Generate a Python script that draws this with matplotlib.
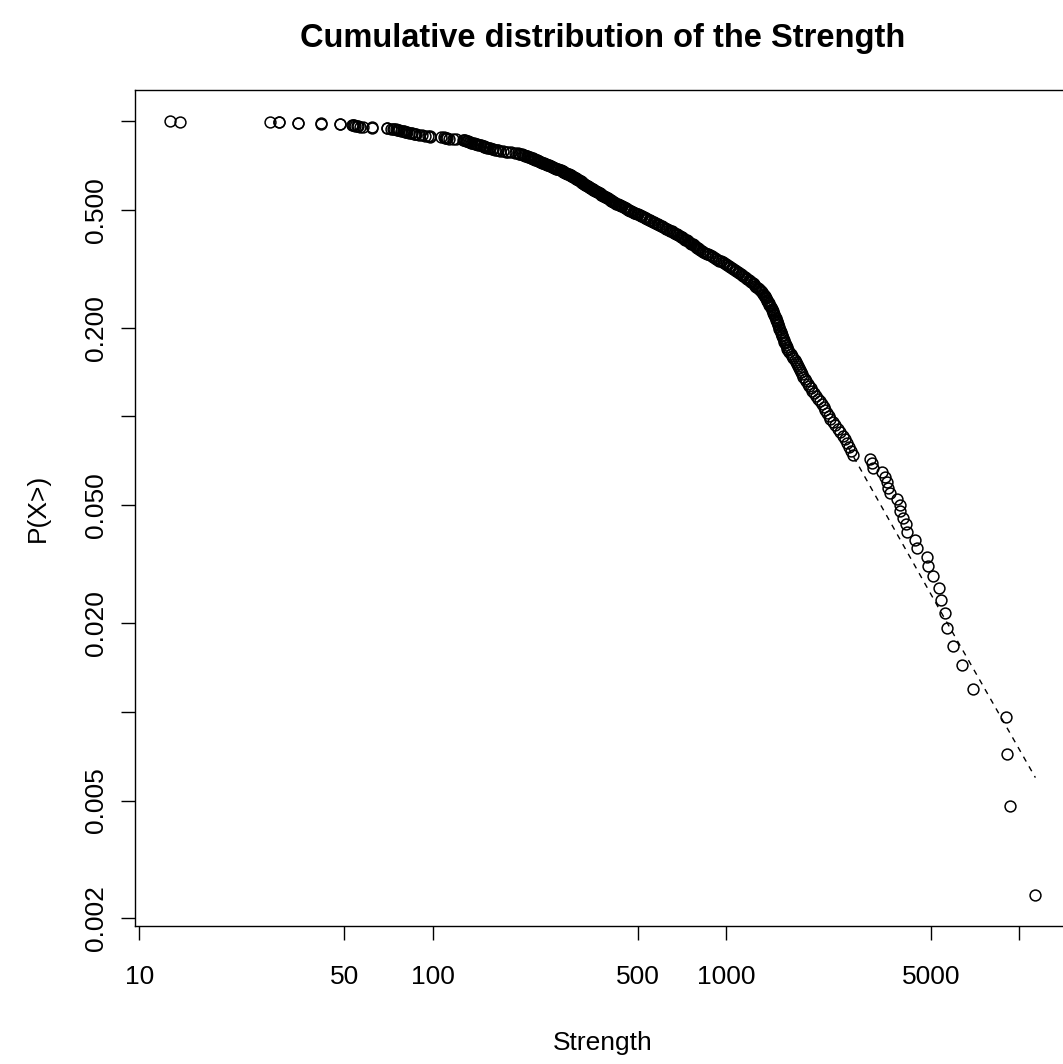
"""Cumulative distribution (CCDF) of the Strength, R base-graphics look."""

import matplotlib

matplotlib.use("Agg")
import matplotlib.pyplot as plt
import numpy as np
from matplotlib.ticker import NullLocator

plt.rcParams["font.family"] = ["Liberation Sans", "DejaVu Sans"]

# Strength values (sorted)
STRENGTH = [
    12.7, 13.8,
    27.8, 29.8, 29.8, 34.6, 34.6, 41.5, 41.5, 48.2, 48.2,
    53, 53.5, 54, 54.2, 55, 55.5, 56.5, 57.7,
    61.9, 62, 69.7, 70,
    72, 73, 74, 75, 75.4, 76, 77, 78, 79, 80, 80.5, 81, 82, 83, 84, 85, 86, 87, 88, 90,
    92, 94, 96, 97.7, 98,
    107, 109, 110, 111, 112, 114, 117, 120,
    127, 128, 129, 130, 131, 132, 133, 134, 135, 136, 138, 139, 140, 141, 143, 145, 146, 148,
    149, 150, 151, 152, 153, 155, 157, 159, 161, 163, 165,
    167, 170, 174, 178, 180, 185, 190, 195,
    197, 199, 201, 203, 205, 207, 209, 210, 212, 214,
    216, 217, 219, 220, 222, 224, 226, 227, 229, 230, 232, 234, 236, 237,
    239, 241, 243, 245, 247, 249, 251, 253, 255, 257, 259, 261, 263, 266, 268, 271,
    273, 275, 277, 279, 281, 283, 285, 287, 289, 291, 293, 295, 297, 299, 301, 303,
    305, 307, 309, 311, 313, 315, 317, 319, 320, 322, 323, 325,
    327, 329, 331, 333, 335, 337, 340, 342, 344, 346, 348, 351, 353, 355, 357, 360, 363,
    365, 368, 371, 374, 376, 379, 382, 385, 388, 391, 393, 396, 399, 402, 404, 406, 409, 411,
    415, 419, 423, 427, 431, 435, 439, 443, 447, 451, 455, 459, 463, 467, 470,
    475, 480, 486, 491, 497, 502, 508, 513, 518, 523, 528, 533, 538,
    544, 550, 556, 562, 568, 574, 580, 586, 592, 598, 604, 610,
    617, 624, 631, 638, 645, 652, 659, 666, 673, 680, 687, 694, 700, 707, 713,
    720, 727, 734, 741, 748, 755, 762, 769, 776, 783, 790, 797, 804, 810, 815,
    826, 837, 848, 859, 870, 881, 892, 903, 914, 925,
    937, 949, 961, 973, 985, 997, 1009, 1021, 1033, 1045, 1057,
    1070, 1082, 1095, 1107, 1120, 1132, 1145, 1157, 1170, 1182, 1195, 1208,
    1220, 1232, 1244, 1256, 1268, 1280, 1292, 1304, 1316, 1327, 1338,
    1346, 1354, 1361, 1369, 1376, 1384, 1391, 1399, 1406, 1414, 1421, 1429, 1436,
    1442, 1449, 1455, 1462, 1468, 1475, 1481, 1488, 1494,
    1500, 1507, 1514, 1520, 1527, 1534, 1540, 1547, 1553,
    1562, 1572, 1581, 1590, 1600, 1609, 1618, 1628,
    1645, 1662, 1679, 1696, 1713, 1730, 1747,
    1761, 1775, 1789, 1803, 1817, 1831,
    1853, 1876, 1898, 1921, 1943, 1965,
    1997, 2030, 2062, 2095, 2127,
    2154, 2182, 2209, 2237, 2264,
    2310, 2356, 2403, 2449,
    2495, 2541, 2588,
    2630, 2671, 2713,
    3101, 3150, 3175, 3407, 3489, 3544, 3560, 3629, 3833, 3926, 3930, 4019, 4115, 4147,
    4417, 4487, 4853, 4891, 5087, 5333, 5418, 5589, 5679, 5951, 6390, 6966,
    9029, 9100, 9318, 11340,
]

# Fitted tail (dashed line)
FIT_STRENGTH = [2609, 5291, 11340]
FIT_PROB = [0.0786, 0.02257, 0.00598]

X_TICKS = [10, 50, 100, 500, 1000, 5000, 10000]
X_LABELS = ["10", "50", "100", "500", "1000", "5000", ""]
Y_TICKS = [1.0, 0.5, 0.2, 0.1, 0.05, 0.02, 0.01, 0.005, 0.002]
Y_LABELS = ["", "0.500", "0.200", "", "0.050", "0.020", "", "0.005", "0.002"]

W, H = 1063, 1064

fig = plt.figure(figsize=(W / 100, H / 100), dpi=100)
# plot region extends past the right edge, like the cropped original
ax = fig.add_axes([135.3 / W, (H - 926) / H, (1070 - 135.3) / W, (926 - 90.3) / H])

values = np.sort(np.asarray(STRENGTH, dtype=float))
n = len(values)
prob = (n - np.arange(n)) / n

ax.plot(values, prob, "o", mfc="none", mec="black", ms=7.8, mew=1.1, ls="none")
ax.plot(FIT_STRENGTH, FIT_PROB, color="black", lw=1.0, ls=(0, (4, 4)))

ax.set_xscale("log")
ax.set_yscale("log")

# R style 4% expansion of the data range
lx = np.log10([values.min(), values.max()])
dx = 0.04 * (lx[1] - lx[0])
ax.set_xlim(10 ** (lx[0] - dx), 10 ** (lx[1] + dx))
ly = np.log10([prob.min(), prob.max()])
dy = 0.04 * (ly[1] - ly[0])
ax.set_ylim(10 ** (ly[0] - dy), 10 ** (ly[1] + dy))

ax.set_xticks(X_TICKS)
ax.set_xticklabels(X_LABELS)
ax.set_yticks(Y_TICKS)
ax.set_yticklabels(Y_LABELS)
ax.xaxis.set_minor_locator(NullLocator())
ax.yaxis.set_minor_locator(NullLocator())

ax.tick_params(axis="both", direction="out", length=10, width=1.0,
               labelsize=19, colors="black")
ax.tick_params(axis="x", pad=18)
ax.tick_params(axis="y", pad=10)
for lbl in ax.get_yticklabels():
    lbl.set_rotation(90)
    lbl.set_va("center")

for sp in ax.spines.values():
    sp.set_linewidth(1.0)
    sp.set_color("black")

fig.text(602.6 / W, 1 - 1043 / H, "Strength", ha="center", va="center", fontsize=19)
fig.text(38 / W, 1 - 508 / H, "P(X>)", ha="center", va="center",
         rotation=90, fontsize=19)
fig.text(602.6 / W, 1 - 39 / H, "Cumulative distribution of the Strength",
         ha="center", va="center", fontsize=23.5, fontweight="bold")

fig.savefig("out.png", dpi=100, facecolor="white")
